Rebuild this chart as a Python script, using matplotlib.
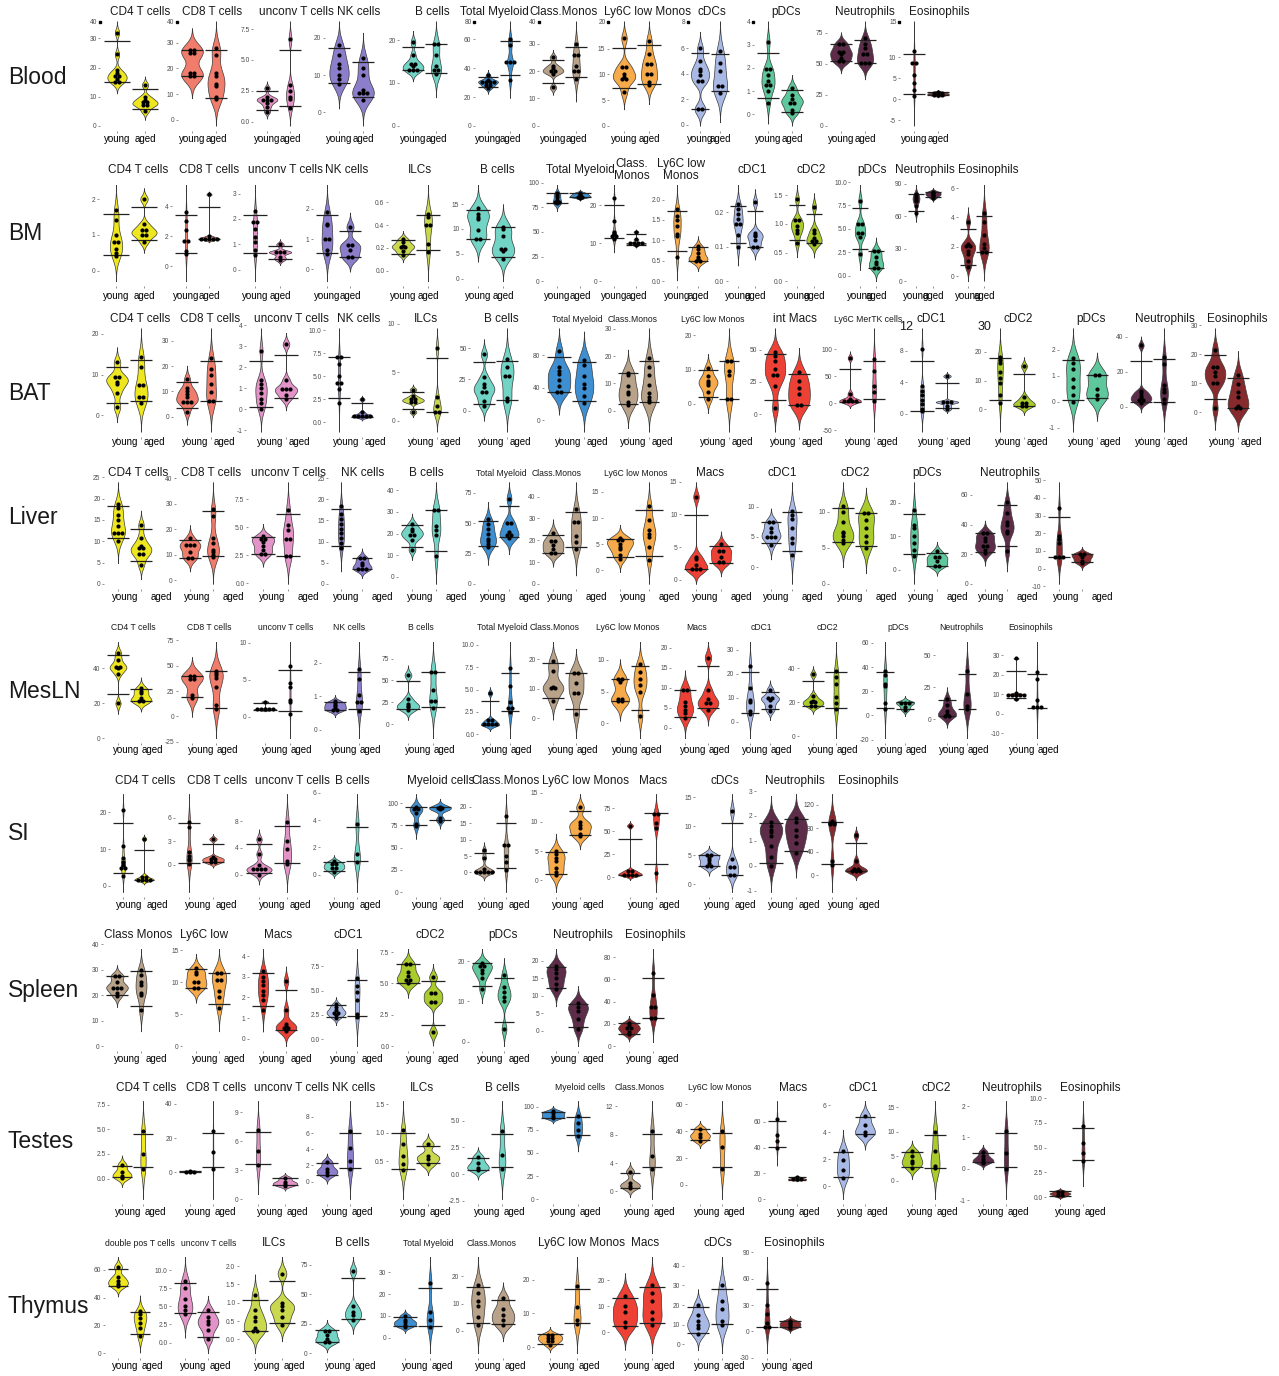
import numpy as np
import matplotlib
matplotlib.use("Agg")
import matplotlib.pyplot as plt

plt.rcParams["font.family"] = ["Liberation Sans", "DejaVu Sans"]

# ------------------------------------------------------------------ data
# Each tissue: panel titles, young values, aged values, y tick values.

blood_titles = ["CD4 T cells", "CD8 T cells", "unconv T cells", "NK cells", "B cells",
                "Total Myeloid", "Class.Monos", "Ly6C low Monos", "cDCs", "pDCs",
                "Neutrophils", "Eosinophils"]
blood_young = [[32, 24.5, 19, 18, 17, 17, 16, 15, 15], [27, 27, 26, 26, 18, 18, 17, 17],
               [2.7, 2.0, 1.8, 1.8, 1.7, 1.5, 1.2, 0.8], [18, 15.5, 13, 12, 10, 9, 7.5],
               [19.5, 16.5, 14.5, 14.5, 14, 13, 13, 13], [35, 32, 31, 31, 30, 30, 28, 28, 26],
               [25, 22, 21, 20, 20, 19, 14], [17, 11.5, 11.5, 10, 9.5, 9, 9, 6.5],
               [6, 5, 4.4, 4.2, 3.9, 3.4, 3.4, 1.2, 1.2], [3.1, 2.0, 1.9, 1.7, 1.45, 1.3, 1.2, 1.0, 0.5],
               [66, 66, 60, 60, 58, 55, 52, 52], [11.5, 8.8, 8.5, 5.8, 3.8, 2.3, 0.8]]
blood_aged = [[14, 10, 9, 8, 8, 7, 7, 5], [28, 25, 18, 17, 14, 13, 9, 8],
              [6.7, 3.0, 2.5, 2.0, 1.8, 1.1], [14.5, 12, 10, 6, 5.3, 5.3, 5.3, 3.3],
              [19, 19, 16.5, 14, 13, 13, 12], [60, 56, 44, 44, 44, 32],
              [30, 26, 26, 22, 20, 20, 17], [16.5, 14, 12, 12, 10, 10, 8.5, 8],
              [5.8, 4.8, 4.2, 3, 3, 2.5], [1.15, 0.85, 0.65, 0.5, 0.5, 0.2, 0.05],
              [71, 66, 63, 58, 58, 51, 51, 51], [1.8, 1.5, 1.4, 1.3, 1.2, 1.0, 0.9]]
blood_ticks = [[0, 10, 20, 30], [0, 10, 20, 30], [0, 2.5, 5, 7.5], [0, 10, 20], [0, 10, 20],
               [0, 20, 40, 60], [0, 10, 20, 30], [0, 5, 10, 15], [0, 2, 4, 6], [-1, 0, 1, 2, 3],
               [0, 25, 50, 75], [-5, 0, 5, 10]]
# clipped labels sitting at the top of some blood axes
blood_top_labels = ["40", "40", "", "", "", "80", "40", "20", "8", "4", "", "15"]

bm_titles = ["CD4 T cells", "CD8 T cells", "unconv T cells", "NK cells", "ILCs", "B cells",
             "Total Myeloid", "Class.\nMonos", "Ly6C low\nMonos", "cDC1", "cDC2", "pDCs",
             "Neutrophils", "Eosinophils"]
bm_young = [[1.7, 1.4, 1.0, 0.8, 0.8, 0.6, 0.5, 0.4], [3.6, 3.0, 2.4, 1.7, 1.7, 1.0, 0.85],
            [2.3, 1.9, 1.85, 1.6, 1.3, 1.1, 0.8, 0.6], [1.9, 1.5, 1.45, 1.0, 1.0, 0.65, 0.5],
            [0.28, 0.25, 0.22, 0.21, 0.2, 0.17, 0.14], [14.3, 13, 12.5, 12, 9.7, 8, 8],
            [90, 88, 86, 83, 80, 80, 79], [22, 16, 13, 12.5, 12, 12, 11],
            [1.78, 1.6, 1.5, 1.35, 1.15, 1.1, 0.6], [0.225, 0.21, 0.195, 0.18, 0.165, 0.165, 0.135, 0.1],
            [1.43, 1.07, 1.05, 0.97, 0.9, 0.85, 0.67], [8, 5.6, 5.5, 4.6, 4.5, 4.1, 2.3],
            [81, 79, 77, 75, 74, 70, 63], [3.7, 2.2, 2.1, 2.0, 1.7, 1.5, 1.0, 0.65]]
bm_aged = [[2.0, 1.3, 1.15, 1.1, 1.0, 1.0, 0.8], [4.8, 2.0, 1.9, 1.9, 1.8, 1.8, 1.8],
           [1.0, 0.7, 0.7, 0.7, 0.5, 0.4], [1.4, 0.8, 0.8, 0.65, 0.4, 0.4],
           [0.5, 0.47, 0.4, 0.4, 0.23, 0.16], [10.5, 10, 8.5, 6, 6, 5.5, 4],
           [90, 89, 88, 87, 86, 86, 85], [13, 11, 10, 10, 10, 10, 9.5],
           [0.85, 0.78, 0.7, 0.6, 0.55, 0.5, 0.5], [0.23, 0.14, 0.135, 0.13, 0.12, 0.1, 0.1],
           [1.3, 0.9, 0.85, 0.75, 0.7, 0.7, 0.65], [2.7, 2.5, 2.0, 1.5, 1.2, 0.9, 0.8],
           [83, 82, 81, 80, 79, 77], [4.3, 3.7, 2.8, 2.2, 1.9, 1.7, 1.6]]
bm_ticks = [[0, 1, 2], [0, 2, 4, 6], [0, 1, 2, 3], [0, 1, 2], [0.0, 0.2, 0.4, 0.6], [0, 5, 10, 15],
            [0, 25, 50, 75, 100], [0, 10, 20], [0.0, 0.5, 1.0, 1.5, 2.0], [0.0, 0.1, 0.2, 0.3],
            [0.0, 0.5, 1.0, 1.5], [0.0, 2.5, 5.0, 7.5, 10.0], [0, 30, 60, 90], [0, 2, 4, 6]]

bat_titles = ["CD4 T cells", "CD8 T cells", "unconv T cells", "NK cells", "ILCs", "B cells",
              "Total Myeloid", "Class.Monos", "Ly6C low Monos", "int Macs", "Ly6C MerTK cells",
              "cDC1", "cDC2", "pDCs", "Neutrophils", "Eosinophils"]
bat_young = [[13, 9.5, 9.2, 8.3, 7.6, 5.6, 2.1], [15, 11.5, 10, 9, 8, 6, 6, 6, 2],
             [2.8, 1.4, 1.2, 1.0, 0.8, 0.5, 0.3, 0.0], [7.1, 7.0, 6.3, 5.0, 4.4, 4.2, 3.6, 2.1],
             [3.2, 2.5, 2.2, 2.2, 2.0, 1.9, 0.9], [45, 27, 21, 19, 15, 15, 8, 4],
             [85, 66, 60, 57, 49, 42, 35, 35], [14, 13, 9, 7, 6, 3, 2],
             [10.5, 8.2, 6.8, 6, 5.5, 3.5, 1.4], [48, 45, 41, 35, 31, 30, 22, 5],
             [84, 18, 7, 5, 4, 3, 3], [8.3, 3.6, 2.9, 2.4, 1.8, 1.3, 0.6, 0.3],
             [18, 17, 16, 13, 11, 9, 5, 2.4], [1.67, 1.5, 1.25, 0.86, 0.55, 0.25, 0.0],
             [35, 9, 7.7, 6.3, 5, 4.4, 3.5, 2], [21.5, 16, 15.5, 13.8, 12.4, 10, 10, 1.4]]
bat_aged = [[14.3, 12, 7.5, 7.3, 4.6, 4.5, 3.1], [23, 19, 16.5, 13, 9.6, 6.2, 6],
            [3.1, 1.4, 1.0, 1.0, 0.9, 0.7, 0.5], [2.5, 1.1, 0.8, 0.8, 0.7, 0.6, 0.6],
            [7.5, 2.4, 1.5, 1.0, 0.9], [41, 35, 28, 27, 10, 8],
            [74, 68, 54, 45, 40, 30, 21], [19.5, 16, 13, 9.5, 6.5, 5, 4, 3],
            [12.5, 12.3, 9.5, 8.5, 1.4, 1.4], [32.5, 26, 20, 16, 8, 7],
            [82, 60, 32, 21, 4], [4.8, 1.5, 1.5, 1.5, 1.0, 0.6],
            [15, 4.2, 2.5, 2.0, 1.4, 1.2], [1.05, 1.0, 0.5, 0.25, 0.1],
            [28.5, 24.6, 12.3, 10, 8.5, 4.6, 2.1], [13, 9.6, 6.9, 5.1, 2.1, 1.6, 1.4]]
bat_ticks = [[0, 10, 20], [0, 10, 20, 30], [-1, 0, 1, 2, 3, 4], [0.0, 2.5, 5.0, 7.5, 10.0],
             [-5, 0, 5, 10], [0, 25, 50], [0, 40, 80, 120], [-10, 0, 10, 20, 30], [0, 10, 20],
             [0, 25, 50], [-50, 0, 50, 100, 150], [0, 4, 8], [-10, 0, 10, 20], [-1, 0, 1, 2],
             [0, 20, 40], [0, 10, 20, 30]]
bat_corner_labels = {"cDC1": "12", "cDC2": "30"}

liver_titles = ["CD4 T cells", "CD8 T cells", "unconv T cells", "NK cells", "B cells",
                "Total Myeloid", "Class.Monos", "Ly6C low Monos", "Macs", "cDC1", "cDC2",
                "pDCs", "Neutrophils", "Eosinophils"]
liver_young = [[18.7, 17.8, 16.2, 15, 13.6, 12, 12, 12, 10], [16.5, 14, 13.5, 13.5, 11, 9, 8.5],
               [4.2, 4.0, 3.9, 3.7, 3.3, 3.0, 2.6, 2.6], [18.4, 16.6, 15.4, 14.2, 13, 12, 10.8, 9.7, 8.6],
               [24.5, 22, 21, 19.5, 19, 17, 12.5], [53, 49, 45, 41, 37, 35, 33, 30],
               [23.5, 20, 19.5, 18, 16, 14.5, 14], [6.2, 5.8, 5.7, 5.0, 4.5, 4.0, 3.0, 2.2],
               [12.7, 3.5, 3.1, 2.2, 1.7, 1.6, 1.6], [7.4, 7.4, 6.5, 5.8, 5.0, 5.0, 5.0, 3.6],
               [10.8, 10, 8.6, 7.2, 7, 6.6, 6.1, 5.6], [18, 13.5, 12.5, 10, 8, 6, 4],
               [34, 34, 31, 29, 26, 25, 23, 21], [34, 18.5, 16.5, 14.5, 6.7, 6.5, 6.3]]
liver_aged = [[13.8, 10.8, 9, 8.3, 8.3, 6.9, 6.9, 4.5], [28, 25, 16.5, 14.5, 12, 11, 10, 9],
              [6.6, 5.2, 4.8, 4.0, 3.9, 2.5, 2.4], [6.3, 5.9, 5.0, 4.4, 3.7, 3.5, 3.5],
              [31, 31, 23.5, 21.5, 19.5, 9.5], [70, 50, 50, 43, 40, 40, 38],
              [34.5, 28.5, 28, 22, 19, 16], [12.3, 9.7, 7.8, 7.0, 6.3, 4.5, 2.0],
              [5.4, 4.4, 4.4, 3.5, 2.8, 2.5], [9.2, 8.6, 8, 6.5, 4.9, 4.0, 2.1],
              [9.8, 9.8, 8.9, 7.7, 6.6, 5.8, 5.0], [5.5, 3.8, 3.8, 2.5, 1.5, 1.1],
              [55, 48, 42, 39.5, 36, 34, 22], [8.2, 8.0, 6.5, 4.6, 3.4]]
liver_ticks = [[0, 5, 10, 15, 20, 25], [0, 10, 20, 30, 40], [0.0, 2.5, 5.0, 7.5],
               [0, 5, 10, 15, 20, 25], [0, 10, 20, 30, 40], [0, 25, 50, 75], [0, 10, 20, 30, 40],
               [0, 5, 10, 15], [0, 5, 10, 15], [0, 5, 10], [0, 5, 10], [0, 10, 20, 30],
               [0, 20, 40, 60], [-10, 0, 10, 20, 30, 40, 50]]
liver_untitled = ["Eosinophils"]

mesln_titles = ["CD4 T cells", "CD8 T cells", "unconv T cells", "NK cells", "B cells",
                "Total Myeloid", "Class.Monos", "Ly6C low Monos", "Macs", "cDC1", "cDC2",
                "pDCs", "Neutrophils", "Eosinophils"]
mesln_young = [[49, 45, 41, 41, 40, 37, 20], [40, 40, 37, 36, 21, 18],
               [2.0, 1.1, 1.0, 1.0, 0.9, 0.9], [0.85, 0.8, 0.75, 0.7, 0.65, 0.6, 0.57],
               [56, 29, 23, 21, 19, 16], [4.6, 1.6, 1.5, 1.2, 1.1, 1.0, 1.0],
               [19.5, 16, 10.8, 10.5, 10, 6], [7.0, 7.0, 6.5, 4.0, 3.8, 3.5, 3.5],
               [9.4, 9.4, 6.5, 5.5, 4.5, 3.7, 2.4], [23, 14, 8.8, 8, 4.6, 3.3],
               [36.5, 24, 21, 20.5, 20, 18, 18], [37, 33, 26, 24, 10, 5],
               [16, 11, 6.4, 4.4, 3.0, 2.6], [28.5, 10.5, 10.2, 10, 10, 9.8, 9.5, 7.5]]
mesln_aged = [[29, 27, 26, 23, 22, 21, 21], [45, 43, 41, 38, 29, 11, 7],
              [6.8, 4.6, 4.0, 2.3, 2.0, 0.4], [1.8, 1.5, 1.05, 0.84, 0.8, 0.57],
              [60, 60, 39, 27, 26, 18], [7.4, 5.4, 3.6, 3.0, 2.8, 2.5],
              [15.5, 15, 12, 8.5, 8.5, 1.4], [9.3, 8.0, 7.0, 6.0, 5.0, 1.2],
              [17.5, 9.4, 7.2, 6.2, 6.0, 4.5], [13.2, 10, 9.9, 8.8, 6.6, 4.6],
              [38.5, 35, 31, 23, 19.5, 16], [11, 10.5, 10, 7, 4.5],
              [38, 20, 10.5, 7.8], [21.5, 18, 7, 3.5, 3.3, 3.0]]
mesln_ticks = [[0, 20, 40, 60], [-25, 0, 25, 50, 75], [0, 5, 10], [0, 1, 2], [0, 25, 50, 75],
               [0.0, 2.5, 5.0, 7.5, 10.0], [0, 10, 20], [0, 5, 10], [0, 5, 10, 15, 20],
               [0, 10, 20, 30], [0, 20, 40], [-20, 0, 20, 40, 60], [0, 25, 50], [-10, 0, 10, 20, 30]]

si_titles = ["CD4 T cells", "CD8 T cells", "unconv T cells", "B cells", "Myeloid cells",
             "Class.Monos", "Ly6C low Monos", "Macs", "cDCs", "Neutrophils", "Eosinophils"]
si_young = [[20.5, 10.8, 7.5, 6.6, 5.6, 5.1, 4.5, 2.8], [5.5, 4.9, 1.7, 1.1, 0.8, 0.6, 0.1],
            [5.3, 3.1, 1.4, 0.9, 0.7, 0.7, 0.65, 0.0], [1.0, 0.8, 0.7, 0.5, 0.45, 0.2],
            [96, 94, 93, 93, 89, 77, 74], [6.8, 4.5, 1.2, 0.5, 0.3, 0.2, 0.1, 0.0],
            [5.1, 4.5, 3.8, 3.3, 2.2, 1.4, 0.9], [56, 7.6, 6, 4, 3.5, 2.5, 2],
            [5.1, 5.0, 4.6, 4.2, 3.6, 3.2, 3.0], [1.75, 1.6, 1.45, 1.35, 1.2, 0.8, 0.35, 0.0],
            [92, 90, 89, 88, 86, 25, 18]]
si_aged = [[12.8, 2.8, 2.2, 1.8, 1.8, 1.5, 1.5], [3.3, 1.0, 0.75, 0.7, 0.4, 0.3],
           [7.9, 5.0, 3.8, 2.1, 1.6], [3.7, 1.5, 0.95],
           [96, 95, 94, 94, 93, 83, 80], [17.2, 8.6, 8.4, 5.0, 3.3, 0.8],
           [12.5, 10, 9.5, 9, 8, 7.6], [70, 68, 59, 54, 4.5],
           [12.6, 4.4, 3.2, 2.9, 1.7, 1.6], [1.9, 1.75, 1.45, 1.2, 0.9, 0.5],
           [68, 25, 12, 10, 8, 7, 7]]
si_ticks = [[0, 10, 20, 30], [0, 3, 6], [0, 4, 8], [0, 2, 4, 6], [0, 25, 50, 75, 100, 125],
            [0, 5, 10, 15, 20], [-5, 0, 5, 10, 15], [-25, 0, 25, 50, 75], [0, 5, 10, 15],
            [-1, 0, 1, 2, 3], [0, 40, 80, 120]]

spleen_titles = ["Class Monos", "Ly6C low", "Macs", "cDC1", "cDC2", "pDCs", "Neutrophils",
                 "Eosinophils"]
spleen_young = [[27.7, 27.5, 25, 23, 23, 23, 21, 19.5], [12.2, 11.5, 11.2, 10.1, 10, 9.1, 9],
                [3.3, 3.0, 2.8, 2.6, 2.3, 2.1, 1.9, 1.4], [3.6, 3.3, 3.0, 2.8, 2.7, 2.5, 2.2],
                [6.6, 6.5, 5.9, 5.6, 5.3, 5.2, 5.0], [19.6, 19, 18.7, 17.9, 17, 15.7, 13],
                [18.5, 17.5, 16.6, 15, 13.2, 11.8], [21, 19, 16, 16, 13, 10.5]]
spleen_aged = [[30, 28, 25, 24, 21, 20, 14], [11.5, 11.4, 10.3, 10.3, 8.6, 7.7, 6],
               [2.8, 1.4, 0.7, 0.6, 0.55, 0.5, 0.35], [6.3, 5.5, 4.9, 4.0, 2.6, 2.3],
               [5.5, 4.3, 4.2, 3.6, 3.5, 1.1], [16.5, 13.6, 12.3, 11, 10, 3.2],
               [7.8, 6.8, 5.6, 3.4, 0.5], [66, 46, 36, 35, 26, 25]]
spleen_ticks = [[0, 10, 20, 30, 40], [0, 5, 10, 15], [-1, 0, 1, 2, 3, 4], [0.0, 2.5, 5.0, 7.5],
                [0.0, 2.5, 5.0, 7.5], [0, 10, 20], [0, 5, 10, 15, 20, 25], [0, 20, 40, 60, 80]]

testes_titles = ["CD4 T cells", "CD8 T cells", "unconv T cells", "NK cells", "ILCs", "B cells",
                 "Myeloid cells", "Class.Monos", "Ly6C low Monos", "Macs", "cDC1", "cDC2",
                 "Neutrophils", "Eosinophils"]
testes_young = [[1.4, 0.7, 0.3, 0.1], [0.8, 0.5, 0.3, 0.0], [7.2, 5, 3.5], [2.4, 1.6, 1.2, 0.8],
                [1.05, 0.8, 0.6, 0.45, 0.35], [1.6, 1.0, 0.6, 0.4], [95, 93, 90, 88],
                [2.8, 1.2, 0.8, 0.5], [42, 38, 36, 33], [62, 50, 45, 40], [2.6, 1.9, 1.2, 0.6],
                [6, 5, 4, 3.5, 2.5], [0.55, 0.4, 0.3, 0.25, 0.2], [0.6, 0.4, 0.3, 0.1]]
testes_aged = [[4.8, 2.5, 1.0], [24, 12, 2], [2.2, 1.8, 1.6, 1.4], [6.3, 4.2, 2.6, 1.5],
               [0.8, 0.6, 0.55, 0.45], [4.0, 1.8, 0.5], [90, 82, 75, 68], [8.5, 5, 3.2],
               [40, 28, 12], [17, 16, 15.5, 15], [5.2, 4.5, 4.0, 3.8], [10, 6, 3, 2.5],
               [1.2, 0.5, 0.0], [7.2, 5.5, 4.5, 3.6]]
testes_ticks = [[0.0, 2.5, 5.0, 7.5], [0, 20, 40], [0, 3, 6, 9], [0, 2, 4, 6, 8], [0.5, 1.0, 1.5],
                [-2.5, 0.0, 2.5, 5.0, 7.5], [0, 25, 50, 75, 100, 125], [0, 4, 8, 12],
                [0, 20, 40, 60], [0, 20, 40, 60, 80], [0, 2, 4, 6], [-5, 0, 5, 10, 15],
                [-1, 0, 1, 2], [0.0, 2.5, 5.0, 7.5, 10.0]]

thymus_titles = ["double pos T cells", "unconv T cells", "ILCs", "B cells", "Total Myeloid",
                 "Class.Monos", "Ly6C low Monos", "Macs", "cDCs", "Eosinophils"]
thymus_young = [[62, 55, 52, 50, 48], [8.5, 7.5, 6, 5, 4.5, 4], [1.2, 0.8, 0.6, 0.5, 0.3, 0.25, 0.2],
                [20, 18, 15, 12, 10, 9], [10, 8, 7, 6, 5], [17, 14, 11, 9, 5, 2],
                [4, 3.5, 3, 2.5, 2, 1.5, 0.5], [14, 10, 8, 4, 2], [20, 15, 12, 10, 8, 5],
                [55, 30, 20, 10, 5, 5]]
thymus_aged = [[30, 28, 25, 22, 18, 12], [4.5, 3.5, 3, 2.5, 1.8, 0.5], [1.8, 1.0, 0.9, 0.8, 0.6, 0.4],
               [70, 40, 35, 32, 28], [25, 12, 8, 5], [12, 8, 6, 4, 2], [18, 12, 8, 7],
               [18, 15, 12, 8, 5, 3], [30, 22, 18, 12, 10], [12, 10, 8, 6, 4]]
thymus_ticks = [[0, 20, 40, 60], [0.0, 2.5, 5.0, 7.5, 10.0], [0.0, 0.5, 1.0, 1.5, 2.0],
                [0, 25, 50, 75, 100], [-10, 0, 10, 20, 30, 40], [0, 10, 20], [0, 10, 20],
                [0, 10, 20], [0, 10, 20, 30, 40], [-30, 0, 30, 60, 90]]

groups = ["young", "aged"]

# ------------------------------------------------------------------ layout (pixels)
W, H = 1279, 1376

# violin centres (young, aged) and title centres per panel
blood_x = [(117, 145), (192, 216), (267, 290), (339, 363), (413, 436), (488, 510), (553, 576),
           (624, 649), (700, 720), (768, 792), (841, 865), (914, 938)]
blood_tx = [140, 212, 296, 359, 432, 494, 564, 648, 712, 786, 865, 939]
bm_x = [(116, 144), (186, 209), (255, 280), (327, 350), (403, 428), (478, 503), (557, 580),
        (614, 636), (677, 698), (738, 755), (797, 814), (860, 876), (916, 933), (968, 984)]
bm_tx = [138, 209, 285, 347, 420, 497, 580, 632, 681, 752, 811, 872, 925, 988]
bat_x = [(117, 141), (187, 211), (261, 286), (339, 362), (413, 437), (484, 507), (559, 584),
         (628, 649), (708, 729), (775, 799), (850, 874), (922, 947), (1000, 1024), (1073, 1097),
         (1141, 1164), (1215, 1238)]
bat_tx = [140, 210, 291, 359, 426, 501, 577, 633, 713, 795, 868, 931, 1018, 1091, 1165, 1237]
liver_x = [(118, 141), (190, 213), (263, 288), (341, 362), (412, 436), (488, 509), (553, 576),
           (620, 649), (696, 721), (771, 792), (843, 866), (914, 937), (985, 1007), (1059, 1082)]
liver_tx = [138, 211, 288, 363, 426, 501, 557, 636, 710, 782, 855, 927, 1010, 1070]
mesln_x = [(118, 141), (192, 216), (265, 290), (335, 359), (408, 433), (490, 510), (553, 576),
           (620, 640), (685, 708), (750, 770), (813, 836), (885, 905), (947, 967), (1016, 1037)]
mesln_tx = [133, 209, 286, 349, 421, 502, 555, 628, 697, 761, 827, 898, 961, 1031]
si_x = [(123, 144), (189, 213), (259, 287), (334, 357), (416, 440), (484, 506), (556, 580),
        (630, 656), (709, 732), (771, 796), (832, 856)]
si_tx = [145, 217, 292, 352, 441, 506, 585, 653, 725, 795, 868]
spleen_x = [(117, 141), (196, 219), (263, 286), (336, 357), (408, 433), (482, 504), (556, 578),
            (629, 653)]
spleen_tx = [138, 204, 278, 348, 430, 503, 583, 655]
testes_x = [(122, 143), (190, 213), (258, 285), (327, 350), (403, 428), (478, 502), (553, 578),
            (630, 652), (700, 722), (777, 797), (843, 865), (912, 935), (983, 1006), (1060, 1083)]
testes_tx = [146, 216, 291, 354, 422, 502, 580, 640, 720, 793, 863, 936, 1012, 1090]
thymus_x = [(118, 140), (185, 208), (255, 282), (327, 353), (405, 430), (478, 503), (550, 577),
            (625, 652), (698, 722), (767, 790)]
thymus_tx = [140, 209, 274, 352, 428, 492, 582, 645, 718, 794]

# name, label y, title y, panel top, panel bottom, x-label y, x-label style, ..., small titles
rows = [
    ("Blood", 78, 12, 16, 131, 139, ("center",), blood_titles, blood_young, blood_aged, blood_ticks,
     blood_x, blood_tx, []),
    ("BM", 233, 170, 180, 286, 296, ("center",), bm_titles, bm_young, bm_aged, bm_ticks, bm_x, bm_tx, []),
    ("BAT", 393, 319, 323, 437, 442, ("split", 3, 3), bat_titles, bat_young, bat_aged, bat_ticks, bat_x,
     bat_tx, ["Total Myeloid", "Class.Monos", "Ly6C low Monos", "Ly6C MerTK cells"]),
    ("Liver", 517, 473, 477, 589, 597, ("split", 3, 10), liver_titles, liver_young, liver_aged, liver_ticks,
     liver_x, liver_tx, ["Total Myeloid", "Class.Monos", "Ly6C low Monos"]),
    ("MesLN", 692, 628, 637, 743, 750, ("split", 2, 1), mesln_titles, mesln_young, mesln_aged, mesln_ticks,
     mesln_x, mesln_tx, mesln_titles),
    ("SI", 833, 781, 789, 897, 905, ("split", 2, 3), si_titles, si_young, si_aged, si_ticks, si_x, si_tx, []),
    ("Spleen", 990, 935, 944, 1051, 1059, ("split", 1, 5), spleen_titles, spleen_young, spleen_aged,
     spleen_ticks, spleen_x, spleen_tx, []),
    ("Testes", 1141, 1088, 1096, 1204, 1212, ("split", 2, 2), testes_titles, testes_young, testes_aged,
     testes_ticks, testes_x, testes_tx, ["Myeloid cells", "Class.Monos", "Ly6C low Monos"]),
    ("Thymus", 1306, 1243, 1252, 1358, 1366, ("split", 2, 2), thymus_titles, thymus_young, thymus_aged,
     thymus_ticks, thymus_x, thymus_tx, ["double pos T cells", "unconv T cells", "Total Myeloid",
                                         "Class.Monos"]),
]

PALETTE = [("CD4", "#EEE61E"), ("double pos", "#EEE61E"), ("CD8", "#F07C6C"),
           ("unconv", "#E393C8"), ("NK", "#8C7ECB"), ("ILC", "#C9D84F"), ("B cells", "#72D4C4"),
           ("Myeloid", "#3D8FD1"), ("Class", "#B8A28A"), ("MerTK", "#EE6F9A"),
           ("Ly6C low", "#F6AA4A"), ("Macs", "#EE4136"), ("cDC1", "#A9B9E6"), ("cDCs", "#A9B9E6"),
           ("cDC2", "#A9CB2C"), ("pDC", "#5EC79B"), ("Neutro", "#5D2C49"), ("Eosino", "#862A2D")]
EDGE = "#3a3a3a"
TICK_C = "#4d4d4d"


def color_for(name):
    for key, c in PALETTE:
        if key in name:
            return c
    return "#999999"


def px_rect(left, top, right, bottom):
    return [left / W, 1 - bottom / H, (right - left) / W, (bottom - top) / H]


def nrd0(v):
    v = np.asarray(v, float)
    sd = np.std(v, ddof=1) if len(v) > 1 else 0.0
    q75, q25 = np.percentile(v, [75, 25])
    lo = min(sd, (q75 - q25) / 1.34)
    if lo <= 0:
        lo = sd if sd > 0 else (abs(v[0]) if v[0] != 0 else 1.0)
    return 0.9 * lo * len(v) ** -0.2


def density(v):
    v = np.asarray(v, float)
    bw = nrd0(v)
    grid = np.linspace(v.min() - 3 * bw, v.max() + 3 * bw, 400)
    d = np.exp(-0.5 * ((grid[:, None] - v[None, :]) / bw) ** 2).sum(1)
    d /= len(v) * bw * np.sqrt(2 * np.pi)
    return grid, d


def stacked(vals, binw, dx):
    v = np.sort(np.asarray(vals, float))
    xs, ys = [], []
    i = 0
    while i < len(v):
        j = i
        while j + 1 < len(v) and v[j + 1] - v[i] < binw:
            j += 1
        k = j - i + 1
        c = (v[i] + v[j]) / 2
        for m in range(k):
            xs.append((m - (k - 1) / 2) * dx)
            ys.append(c)
        i = j + 1
    return np.array(xs), np.array(ys)


def tick_labels(ticks):
    dec = 0
    for t in ticks:
        s = f"{t:g}"
        if "." in s:
            dec = max(dec, len(s.split(".")[1]))
    return [f"{t:.{dec}f}" for t in ticks]


fig = plt.figure(figsize=(W / 100, H / 100), dpi=100)

for (name, label_y, title_y, top, bottom, xl_y, xl_style, titles, young, aged, ticks, xs, txs,
     small) in rows:
    fig.text(8 / W, 1 - label_y / H, name, fontsize=16.5, ha="left", va="center", color="#1a1a1a")
    for k, title in enumerate(titles):
        yx, axx = xs[k]
        sp = axx - yx
        left, right = yx - 0.6 * sp, axx + 0.6 * sp
        ax = fig.add_axes(px_rect(left, top, right, bottom))
        col = color_for(title)
        data = [np.asarray(young[k], float), np.asarray(aged[k], float)]
        dens = [density(g) for g in data]
        dmax = max(d.max() for _, d in dens)
        lo = min(0.0, min(g.min() for g, _ in dens))
        hi = max(0.0, max(g.max() for g, _ in dens))
        pad = 0.05 * (hi - lo)
        ax.set_xlim(0.4, 2.6)
        ax.set_ylim(lo - pad, hi + pad)
        allpts = np.concatenate(data)
        binw = max((allpts.max() - allpts.min()) / 30, 1e-9)
        dx = 3.8 / sp
        for i, (grid, d) in enumerate(dens):
            pos = i + 1
            hw = 0.45 * d / dmax
            ax.fill_betweenx(grid, pos - hw, pos + hw, facecolor=col, edgecolor=EDGE,
                             linewidth=0.5, zorder=2)
            q_lo, q_hi = np.percentile(data[i], [5, 95])
            ax.hlines([q_lo, q_hi], pos - 0.47, pos + 0.47, color="#222222", linewidth=0.9,
                      zorder=3)
            ox, oy = stacked(data[i], binw, dx)
            ax.scatter(pos + ox, oy, s=9, c="black", linewidths=0, zorder=4)
        tk = [t for t in ticks[k] if lo - pad <= t <= hi + pad]
        ax.set_yticks(tk)
        ax.set_yticklabels(tick_labels(tk), fontsize=4.8, color=TICK_C)
        ax.set_xticks([1, 2])
        ax.set_xticklabels(["", ""])
        ax.tick_params(axis="y", length=1.8, width=0.5, color="#666666", pad=0.8)
        ax.tick_params(axis="x", length=1.6, width=0.5, color="#666666", pad=0)
        for s in ax.spines.values():
            s.set_visible(False)
        ax.patch.set_alpha(0)

        # clipped top label with its marker (blood row)
        if name == "Blood" and blood_top_labels[k]:
            ytop = top + 6
            fig.text((left - 3) / W, 1 - ytop / H, blood_top_labels[k], fontsize=4.8,
                     color=TICK_C, ha="right", va="center")
            ax.plot([-0.01], [1 - 6 / (bottom - top)], marker="s", ms=1.8, color="black",
                    transform=ax.transAxes, clip_on=False, zorder=5)

        # panel title
        shown = not (name == "Liver" and title in liver_untitled)
        if shown:
            fs = 6.2 if title in small else 8.5
            fig.text(txs[k] / W, 1 - title_y / H, title, fontsize=fs,
                     ha="center", va="center", linespacing=0.95, color="#1a1a1a")
        if name == "BAT" and title in bat_corner_labels:
            fig.text((left + 6) / W, 1 - (top + 4) / H, bat_corner_labels[title], fontsize=9,
                     ha="right", va="center", color="#1a1a1a")

        # group labels under the panel
        if xl_style[0] == "center":
            fig.text(yx / W, 1 - xl_y / H, groups[0], fontsize=7, ha="center", va="center")
            fig.text(axx / W, 1 - xl_y / H, groups[1], fontsize=7, ha="center", va="center")
        else:
            g1, g2 = xl_style[1], xl_style[2]
            fig.text((axx - g1) / W, 1 - xl_y / H, groups[0], fontsize=7, ha="right", va="center")
            fig.text((axx + g2) / W, 1 - xl_y / H, groups[1], fontsize=7, ha="left", va="center")

fig.savefig("out.png", dpi=100, facecolor="white")
